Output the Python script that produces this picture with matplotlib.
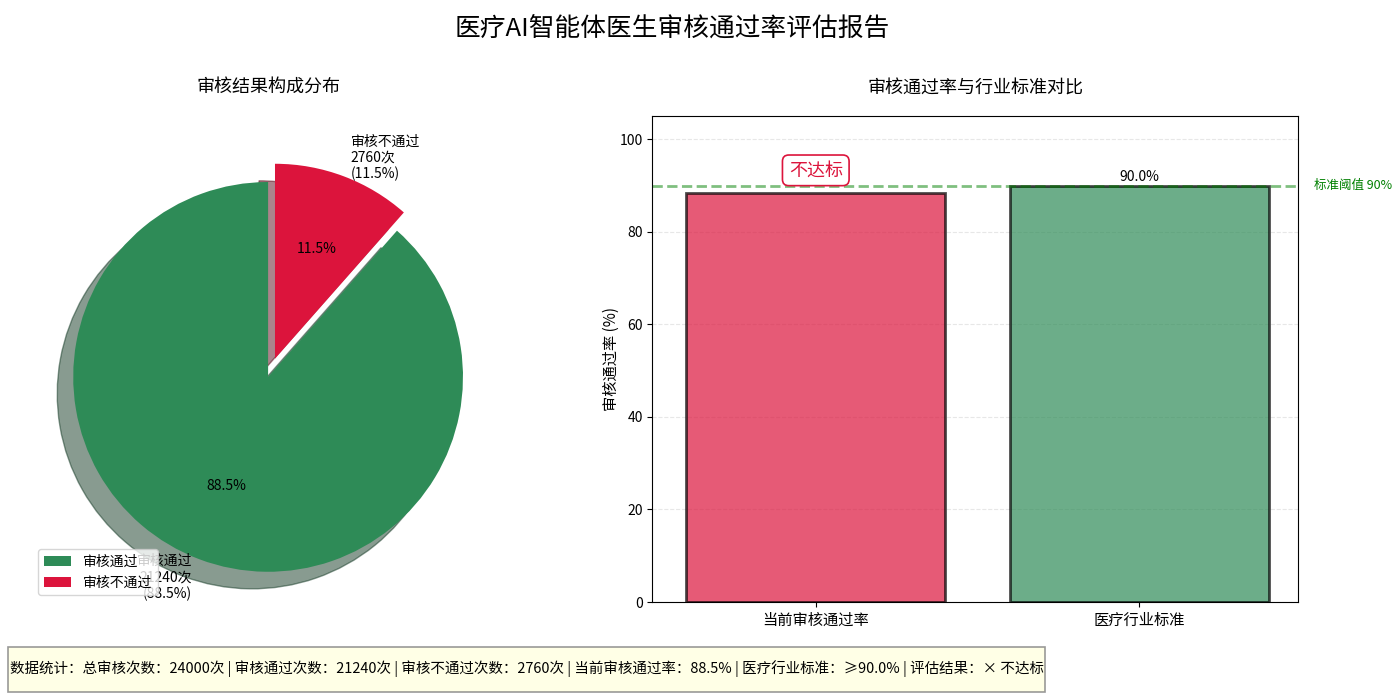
import matplotlib
matplotlib.use("Agg")
import matplotlib.pyplot as plt
from matplotlib.patches import Rectangle

plt.rcParams['font.family'] = ['Noto Sans CJK SC', 'DejaVu Sans']
plt.rcParams['axes.unicode_minus'] = False

# data
pie_labels = ["审核通过", "审核不通过"]
pie_counts = [21240, 2760]
pie_colors = ["#2E8B57", "#DC143C"]

bar_names = ["当前审核通过率", "医疗行业标准"]
bar_values = [88.5, 90.0]
bar_colors = ["#DC143C", "#2E8B57"]
threshold = 90.0

total = sum(pie_counts)
pcts = [c / total * 100 for c in pie_counts]

fig = plt.figure(figsize=(14, 7), dpi=100)
fig.suptitle("医疗AI智能体医生审核通过率评估报告", fontsize=18.5, x=0.48, y=0.978)

# ---- left: pie ----
ax1 = fig.add_axes([0.0175, 0.1136, 0.348, 0.696])
labels_full = [f"{n}\n{c}次\n({p:.1f}%)" for n, c, p in zip(pie_labels, pie_counts, pcts)]
wedges, texts, autotexts = ax1.pie(pie_counts, labels=labels_full, colors=pie_colors,
                                   explode=(0, 0.1), autopct='%1.1f%%',
                                   shadow={'ox': -0.059, 'oy': -0.063, 'shade': 0.6},
                                   startangle=90, textprops={'fontsize': 10})
ax1.set_title("审核结果构成分布", fontsize=13, pad=30)
ax1.legend(wedges, pie_labels, loc='lower left', bbox_to_anchor=(0.028, 0.052),
           borderaxespad=0, fontsize=10)

# ---- right: bars ----
ax2 = fig.add_axes([0.466, 0.14, 0.461, 0.694])
x = list(range(len(bar_names)))
bars = ax2.bar(x, bar_values, width=0.8, color=bar_colors, alpha=0.7,
               edgecolor='black', linewidth=2)
ax2.axhline(threshold, color='green', linestyle='--', linewidth=2, alpha=0.5)
ax2.text(1.025, threshold, f"标准阈值 {threshold:.0f}%", transform=ax2.get_yaxis_transform(),
         color='green', fontsize=9, va='center', ha='left')
ax2.set_ylim(0, 105)
ax2.set_xlim(-0.505, 1.49)
ax2.set_xticks(x)
ax2.set_xticklabels(bar_names, fontsize=11)
ax2.set_ylabel("审核通过率 (%)", fontsize=11, labelpad=0)
ax2.set_title("审核通过率与行业标准对比", fontsize=13, pad=16)
ax2.grid(axis='y', linestyle='--', alpha=0.3)
ax2.set_axisbelow(True)

ax2.text(x[1], bar_values[1] + 0.3, f"{bar_values[1]:.1f}%", ha='center', va='bottom', fontsize=10)
ax2.text(x[0], bar_values[0] + 4.8, "不达标", ha='center', va='center', fontsize=13,
         color='#DC143C',
         bbox=dict(boxstyle='round,pad=0.35', facecolor='white', edgecolor='#DC143C', linewidth=1.2))

# ---- footer ----
summary = (f"数据统计：总审核次数：{total}次 | 审核通过次数：{pie_counts[0]}次 | "
           f"审核不通过次数：{pie_counts[1]}次 | 当前审核通过率：{bar_values[0]:.1f}% | "
           f"医疗行业标准：≥{threshold:.1f}% | 评估结果：× 不达标")
fig.patches.append(Rectangle((8 / 1400, 1 - 692 / 700), 1037 / 1400, 45 / 700,
                             transform=fig.transFigure, facecolor='lightyellow',
                             edgecolor='gray', alpha=0.8, linewidth=1.2))
fig.text(10 / 1400, 1 - 669 / 700, summary, ha='left', va='center', fontsize=10.45)

fig.savefig("out.png", dpi=100)
